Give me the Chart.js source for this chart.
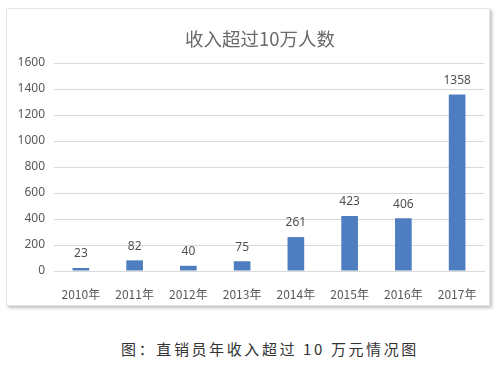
<!DOCTYPE html>
<html>
<head>
<meta charset="utf-8">
<script src="https://cdn.jsdelivr.net/npm/chart.js@4"></script>
<style>
  body { margin: 0; width: 500px; height: 367px; background: #fff; position: relative; overflow: hidden; }
  #box {
    position: absolute; left: 6px; top: 8px; width: 482px; height: 296px;
    background: #fff; border: 1px solid #e6e6e6;
    box-shadow: 2px 2px 3px rgba(0,0,0,0.25);
  }
  #caption {
    position: absolute; left: 0; width: 540px; top: 338px; text-align: center;
    font-family: "Noto Sans CJK SC", sans-serif; font-size: 15px; letter-spacing: 2.6px; color: #333;
  }
</style>
</head>
<body>
<div id="box"><canvas id="chart" width="482" height="296"></canvas></div>
<div id="caption">图：直销员年收入超过 10 万元情况图</div>
<script>
const years = ['2010年', '2011年', '2012年', '2013年', '2014年', '2015年', '2016年', '2017年'];
const counts = [23, 82, 40, 75, 261, 423, 406, 1358];
const chartTitle = '收入超过10万人数';

// title (a bit left of the plot centre, like the original) and the numbers above each bar
const valueLabels = {
  id: 'valueLabels',
  afterDatasetsDraw(chart) {
    const ctx = chart.ctx;
    const meta = chart.getDatasetMeta(0);
    ctx.save();
    ctx.font = '18.5px "Noto Sans CJK SC", sans-serif';
    ctx.fillStyle = '#6a6a6a';
    ctx.textAlign = 'center';
    ctx.textBaseline = 'middle';
    ctx.fillText(chartTitle, (chart.chartArea.left + chart.chartArea.right) / 2 - 9, 30);

    ctx.font = '12px "Noto Sans", sans-serif';
    ctx.fillStyle = '#505050';
    ctx.textBaseline = 'bottom';
    meta.data.forEach((bar, i) => {
      ctx.fillText(counts[i], bar.x, bar.y - 8);
    });
    ctx.restore();
  }
};

const ctx = document.getElementById('chart').getContext('2d');
new Chart(ctx, {
  type: 'bar',
  data: {
    labels: years,
    datasets: [{
      data: counts,
      backgroundColor: '#4E7EC0',
      barPercentage: 0.62,
      categoryPercentage: 0.5
    }]
  },
  options: {
    responsive: false,
    animation: false,
    layout: { padding: { top: 54, left: 0, right: 5, bottom: 0 } },
    plugins: {
      legend: { display: false },
      tooltip: { enabled: false },
      title: { display: false }
    },
    scales: {
      x: {
        grid: { display: false },
        border: { color: '#d9d9d9' },
        ticks: { color: '#595959', font: { family: '"Noto Sans CJK SC", sans-serif', size: 12 }, padding: 8 },
        afterFit(axis) { axis.height = 34; }
      },
      y: {
        min: 0,
        max: 1600,
        grid: { color: '#d9d9d9', drawTicks: false },
        border: { display: false },
        ticks: {
          stepSize: 200, color: '#595959', padding: 9,
          font: { family: '"Noto Sans", sans-serif', size: 12 },
          callback: (v) => String(v)
        },
        afterFit(axis) { axis.width = 47; }
      }
    }
  },
  plugins: [valueLabels]
});
</script>
</body>
</html>
